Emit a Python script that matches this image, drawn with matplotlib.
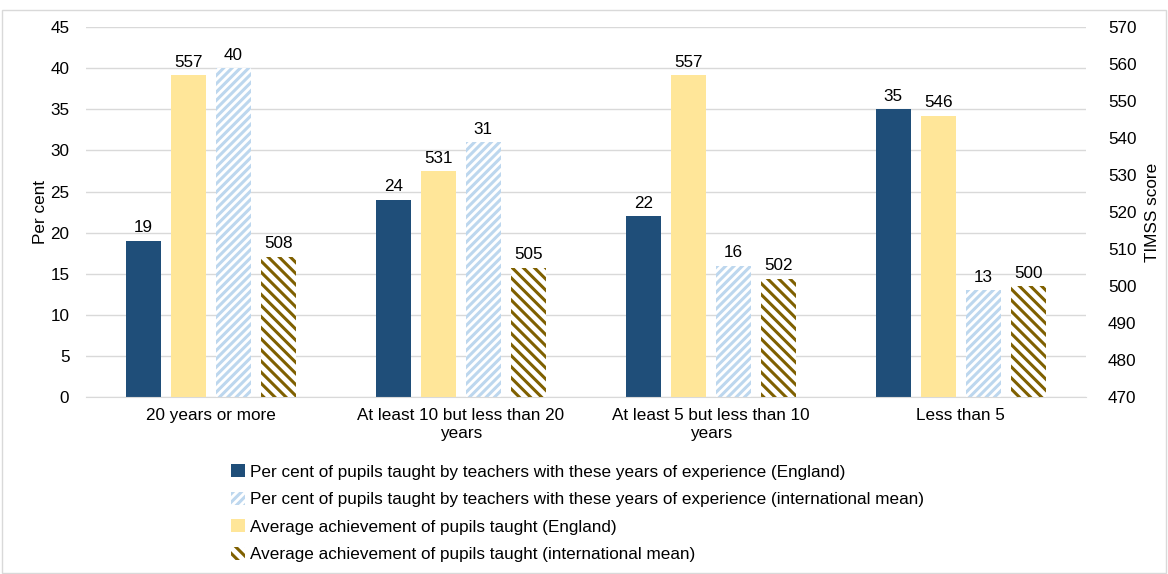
import numpy as np
import matplotlib.pyplot as plt
from matplotlib.patches import Patch

plt.rcParams['font.family'] = ['Liberation Sans', 'DejaVu Sans']
plt.rcParams['hatch.linewidth'] = 2.2

categories = ['20 years or more', 'At least 10 but less than 20\nyears',
              'At least 5 but less than 10\nyears', 'Less than 5']
pct_england = [19, 24, 22, 35]
pct_intl = [40, 31, 16, 13]
score_england = [557, 531, 557, 546]
score_intl = [508, 505, 502, 500]

labels = ['Per cent of pupils taught by teachers with these years of experience (England)',
          'Per cent of pupils taught by teachers with these years of experience (international mean)',
          'Average achievement of pupils taught (England)',
          'Average achievement of pupils taught (international mean)']

c_dark = '#1F4E79'
c_yellow = '#FFE699'
c_lblue = '#BDD7EE'
c_olive = '#7F6000'

fig = plt.figure(figsize=(11.68, 5.74), dpi=100)
ax = fig.add_axes([0.0736, 0.308, 0.856, 0.645])
ax2 = ax.twinx()

x = np.arange(len(categories))
w = 0.14
b1 = ax.bar(x - 0.27, pct_england, w, color=c_dark)
b3 = ax.bar(x + 0.09, pct_intl, w, color='white', edgecolor=c_lblue, hatch='////', linewidth=0)
b2 = ax2.bar(x - 0.09, score_england, w, color=c_yellow)
b4 = ax2.bar(x + 0.27, score_intl, w, color='white', edgecolor=c_olive, hatch='\\\\\\', linewidth=0)

fs = 12.3
for bars, vals, a in [(b1, pct_england, ax), (b3, pct_intl, ax),
                      (b2, score_england, ax2), (b4, score_intl, ax2)]:
    a.bar_label(bars, labels=[str(v) for v in vals], padding=4, fontsize=fs, color='#000000')

ax.set_xlim(-0.5, 3.5)
ax.set_ylim(0, 45)
ax.set_yticks(np.arange(0, 46, 5))
ax2.set_ylim(470, 570)
ax2.set_yticks(np.arange(470, 571, 10))
ax.set_xticks(x)
ax.set_xticklabels(categories, fontsize=fs)
ax.tick_params(axis='y', length=0, labelsize=fs, pad=12)
ax.tick_params(axis='x', length=0, labelsize=fs, pad=8)
ax2.tick_params(axis='y', length=0, labelsize=fs, pad=16)
ax.set_ylabel('Per cent', fontsize=fs, labelpad=2)
ax2.set_ylabel('TIMSS score', fontsize=fs, labelpad=6)
ax.grid(axis='y', color='#D9D9D9', linewidth=1)
ax.set_axisbelow(True)
for a in (ax, ax2):
    for s in ['top', 'left', 'right']:
        a.spines[s].set_visible(False)
ax.spines['bottom'].set_color('#D9D9D9')
ax2.spines['bottom'].set_visible(False)

handles = [Patch(facecolor=c_dark),
           Patch(facecolor='white', edgecolor=c_lblue, hatch='////', linewidth=0),
           Patch(facecolor=c_yellow),
           Patch(facecolor='white', edgecolor=c_olive, hatch='\\\\\\', linewidth=0)]
fig.legend(handles, labels, loc='upper left', bbox_to_anchor=(0.192, 0.203),
           frameon=False, fontsize=fs, handlelength=0.8, handleheight=0.8,
           handletextpad=0.3, labelspacing=0.7, borderaxespad=0)

fig.patches.append(plt.Rectangle((0.002, 0.002), 0.996, 0.98, transform=fig.transFigure,
                                 fill=False, edgecolor='#D9D9D9', linewidth=1))

plt.savefig('out.png', dpi=100)
